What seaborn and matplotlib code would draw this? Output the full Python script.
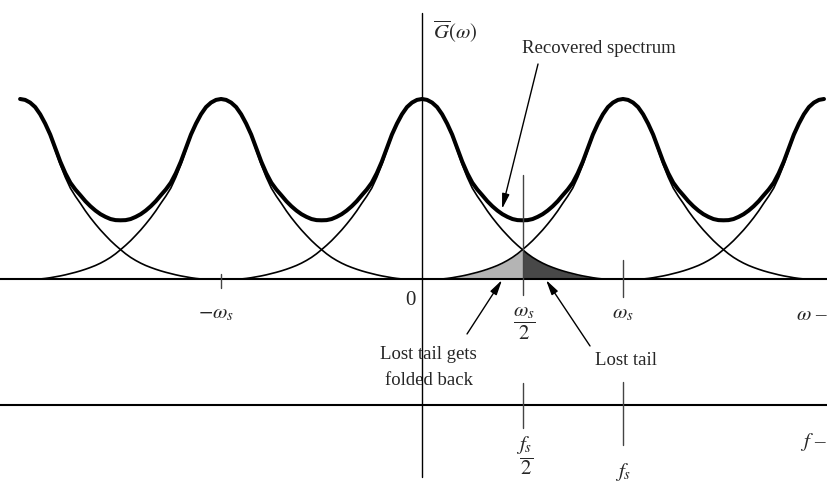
import numpy as np
import pandas as pd
import matplotlib
matplotlib.use("Agg")
import matplotlib.pyplot as plt
import seaborn as sns

# ---- data (in units of omega_s) ----
# one spectral copy: offset from its centre -> height (peak = 1)
shape_offset = [0.000, 0.025, 0.050, 0.075, 0.100, 0.125, 0.150, 0.175, 0.200,
                0.225, 0.250, 0.275, 0.300, 0.325, 0.350, 0.375, 0.400, 0.425,
                0.450, 0.475, 0.500, 0.525, 0.550, 0.575, 0.600, 0.625, 0.650,
                0.675, 0.700, 0.725, 0.750, 0.775, 0.800, 0.825, 0.850, 0.875,
                0.900]
shape_height = [1.000, 0.995, 0.980, 0.955, 0.915, 0.860, 0.795, 0.715, 0.635,
                0.565, 0.505, 0.460, 0.420, 0.378, 0.340, 0.305, 0.272, 0.242,
                0.213, 0.187, 0.163, 0.140, 0.120, 0.103, 0.088, 0.075, 0.064,
                0.054, 0.045, 0.037, 0.030, 0.023, 0.017, 0.012, 0.007, 0.003,
                0.000]
copy_centres = [-2, -1, 0, 1, 2]
omega_ticks = [-1, 0, 0.5, 1]
omega_labels = [r"$-\omega_s$", "0", r"$\dfrac{\omega_s}{2}$", r"$\omega_s$"]
f_ticks = [0.5, 1]
f_labels = [r"$\dfrac{f_s}{2}$", r"$f_s$"]

STEP = 0.025
X_LO, X_HI = -2.0, 2.0

sns.set_style("white")
plt.rcParams["font.family"] = ["Liberation Serif", "DejaVu Serif"]
plt.rcParams["mathtext.fontset"] = "stix"

fig = plt.figure(figsize=(8.28, 4.91), dpi=100)
ax = fig.add_axes([0, 0, 1, 1])
ax.set_xlim(-2.10, 2.02)
ax.set_ylim(-1.178, 1.55)
ax.axis("off")

off = np.array(shape_offset)
hgt = np.array(shape_height)
u_full = np.concatenate([-off[::-1], off[1:]])
h_full = np.concatenate([hgt[::-1], hgt[1:]])

# thin individual copies
rows = []
for c in copy_centres:
    xs = u_full + c
    m = (xs >= X_LO - 1e-9) & (xs <= X_HI + 1e-9)
    for x, h in zip(xs[m], h_full[m]):
        rows.append({"copy": c, "x": x, "y": h})
df = pd.DataFrame(rows)
for c, g in df.groupby("copy"):
    sns.lineplot(data=g, x="x", y="y", ax=ax, color="black", linewidth=1.2,
                 sort=False, estimator=None, zorder=3)

# recovered spectrum = sum of copies on the common grid
n = int(round((X_HI - X_LO) / STEP))
grid = [X_LO + i * STEP for i in range(n + 1)]
total = []
for x in grid:
    s = 0.0
    for c in copy_centres:
        k = int(round(abs(x - c) / STEP))
        if k < len(hgt):
            s += hgt[k]
    total.append(s)
sns.lineplot(x=grid, y=total, ax=ax, color="black", linewidth=2.9,
             sort=False, estimator=None, zorder=4)

# shaded tails
k_half = shape_offset.index(0.5)
dark_x = off[k_half:]
dark_y = hgt[k_half:]
light_x = 1 - off[k_half:]
light_y = hgt[k_half:]
ax.fill_between(dark_x, 0, dark_y, color="#484848", lw=0, zorder=2)
ax.fill_between(light_x, 0, light_y, color="#b4b4b4", lw=0, zorder=2)

# axes lines
ax.plot([-2.2, 2.2], [0, 0], color="black", lw=1.5, zorder=5)
ax.plot([-2.2, 2.2], [-0.70, -0.70], color="black", lw=1.5, zorder=5)
ax.plot([0, 0], [1.478, -1.10], color="black", lw=1.0, zorder=5)

# ticks
tick_col = "#444444"
ax.plot([-1, -1], [0.025, -0.05], color=tick_col, lw=1.0, zorder=5)
ax.plot([0.5, 0.5], [0.58, -0.09], color=tick_col, lw=1.0, zorder=5)
ax.plot([1, 1], [0.105, -0.10], color=tick_col, lw=1.0, zorder=5)
ax.plot([0.5, 0.5], [-0.578, -0.83], color=tick_col, lw=1.0, zorder=5)
ax.plot([1, 1], [-0.572, -0.92], color=tick_col, lw=1.0, zorder=5)

MS = 15
TS = 13.5
# omega tick labels
om_pos = {-1: (-1.025, -0.22, "baseline"), 0: (-0.06, -0.144, "baseline"),
          0.5: (0.512, -0.25, "center"), 1: (1.0, -0.22, "baseline")}
for t, lab in zip(omega_ticks, omega_labels):
    x, y, va = om_pos[t]
    ax.text(x, y, lab, ha="center", va=va, fontsize=MS)
f_pos = {0.5: (0.512, -0.983, "center"), 1: (1.0, -1.10, "baseline")}
for t, lab in zip(f_ticks, f_labels):
    x, y, va = f_pos[t]
    ax.text(x, y, lab, ha="center", va=va, fontsize=MS)

ax.text(1.862, -0.228, r"$\omega$ –", ha="left", va="baseline", fontsize=MS)
ax.text(1.880, -0.933, r"$f$ –", ha="left", va="baseline", fontsize=MS)
ax.text(0.055, 1.339, r"$\overline{G}(\omega)$", ha="left", va="baseline",
        fontsize=MS)

def px(xp, yp):
    return ((xp - 422) / 201.0, (279 - yp) / 180.0)

arrow = dict(arrowstyle="-|>,head_length=0.9,head_width=0.22", color="black",
             lw=1.0, shrinkA=0, shrinkB=0)
ax.text(*px(521.7, 53), "Recovered spectrum", ha="left", va="baseline",
        fontsize=TS)
ax.annotate("", xy=px(502, 209), xytext=px(538, 64), arrowprops=arrow,
            zorder=6)
ax.text(*px(428.5, 359), "Lost tail gets", ha="center", va="baseline",
        fontsize=TS)
ax.text(*px(428.5, 385), "folded back", ha="center", va="baseline",
        fontsize=TS)
ax.annotate("", xy=px(502, 280), xytext=px(467, 334), arrowprops=arrow,
            zorder=6)
ax.text(*px(595, 365), "Lost tail", ha="left", va="baseline", fontsize=TS)
ax.annotate("", xy=px(546, 280), xytext=px(590, 346), arrowprops=arrow,
            zorder=6)

fig.savefig("out.png", dpi=100)
